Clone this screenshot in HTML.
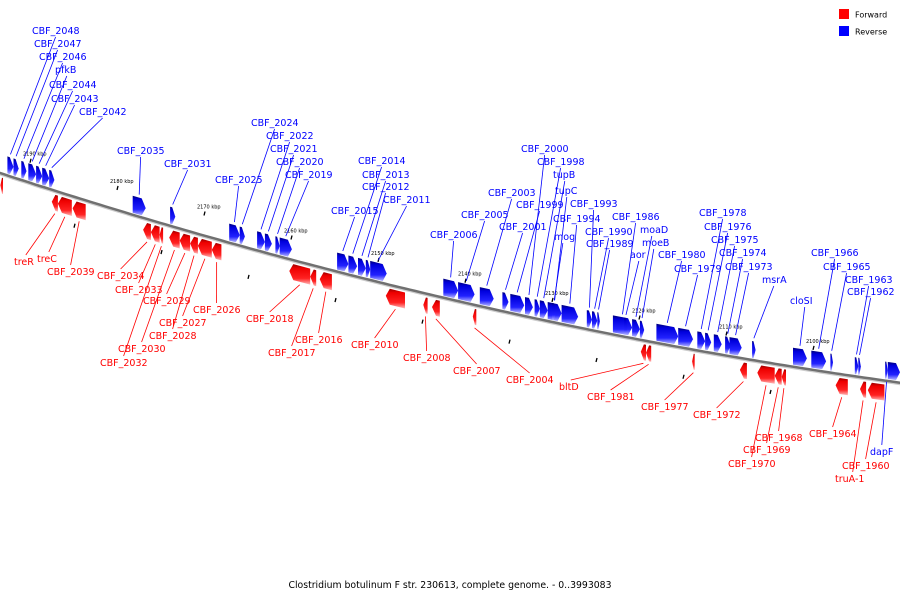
<!DOCTYPE html>
<html><head><meta charset="utf-8"><style>
html,body{margin:0;padding:0;background:#fff;}
svg{display:block;font-family:"DejaVu Sans","Liberation Sans",sans-serif;}
</style></head><body>
<svg id="chart" width="900" height="600" viewBox="0 0 900 600" xmlns="http://www.w3.org/2000/svg">
<defs>
<linearGradient id="gRed" x1="0" y1="0" x2="0" y2="1"><stop offset="0" stop-color="#900"/><stop offset="0.2" stop-color="#e00"/><stop offset="0.7" stop-color="#f22"/><stop offset="1" stop-color="#fbb"/></linearGradient>
<linearGradient id="gBlue" x1="0" y1="0" x2="0" y2="1"><stop offset="0" stop-color="#007"/><stop offset="0.2" stop-color="#00d"/><stop offset="0.7" stop-color="#22f"/><stop offset="1" stop-color="#bbf"/></linearGradient>
</defs>
<g id="axis"></g>
<g id="genes"></g>
<g id="labels"></g>
<g>
<rect x="839" y="9" width="10" height="10" fill="#f00"/>
<text x="855" y="17.5" font-size="8" fill="#000">Forward</text>
<rect x="839" y="26" width="10" height="10" fill="#00f"/>
<text x="855" y="34.5" font-size="8" fill="#000">Reverse</text>
</g>
<text x="450" y="588" font-size="9.3" text-anchor="middle" fill="#000">Clostridium botulinum F str. 230613, complete genome. - 0..3993083</text>
</svg>
<script>
const tickKbp = [2190,2180,2170,2160,2150,2140,2130,2120,2110,2100];
const tickLabels = ["2190 kbp","2180 kbp","2170 kbp","2160 kbp","2150 kbp","2140 kbp","2130 kbp","2120 kbp","2110 kbp","2100 kbp"];
const fwdNames = ["","treR","treC","CBF_2039","CBF_2034","CBF_2033","CBF_2032","CBF_2030","CBF_2029","CBF_2028","CBF_2027","CBF_2026","CBF_2018","CBF_2017","CBF_2016","CBF_2010","CBF_2008","CBF_2007","CBF_2004","bltD","CBF_1981","CBF_1977","CBF_1972","CBF_1970","CBF_1969","CBF_1968","CBF_1964","truA-1","CBF_1960"];
const fwdStart = [2193.4,2187.5,2186.8,2185.1,2177.0,2176.1,2175.1,2174.0,2172.8,2171.6,2170.7,2169.1,2160.2,2157.8,2156.7,2149.1,2144.8,2143.8,2139.1,2119.8,2119.2,2113.9,2108.4,2106.4,2104.4,2103.6,2097.4,2094.6,2093.7];
const fwdEnd = [2193.1,2186.8,2185.2,2183.6,2176.1,2175.1,2174.7,2172.8,2171.6,2170.7,2169.1,2168.0,2157.8,2157.1,2155.3,2146.9,2144.3,2142.9,2138.7,2119.2,2118.6,2113.6,2107.6,2104.4,2103.6,2103.1,2096.0,2093.9,2091.8];
const revNames = ["CBF_2048","CBF_2047","CBF_2046","pfkB","CBF_2044","CBF_2043","CBF_2042","CBF_2035","CBF_2031","CBF_2025","CBF_2024","CBF_2022","CBF_2021","CBF_2020","CBF_2019","CBF_2015","CBF_2014","CBF_2013","CBF_2012","CBF_2011","CBF_2006","CBF_2005","CBF_2003","CBF_2001","CBF_1999","CBF_2000","CBF_1998","tupB","tupC","CBF_1994","mog","CBF_1993","CBF_1990","CBF_1989","CBF_1986","moaD","moeB","aor","CBF_1980","CBF_1979","CBF_1978","CBF_1976","CBF_1975","CBF_1974","CBF_1973","msrA","cloSI","CBF_1966","CBF_1965","CBF_1963","CBF_1962","","dapF"];
const revStart = [2192.6,2191.9,2191.0,2190.2,2189.3,2188.6,2187.8,2178.2,2173.9,2167.1,2165.9,2163.9,2163.0,2161.8,2161.3,2154.7,2153.4,2152.3,2151.4,2150.9,2142.5,2140.8,2138.3,2135.7,2134.8,2133.1,2132.0,2131.4,2130.5,2128.9,2130.0,2126.0,2125.4,2124.8,2123.0,2120.8,2119.9,2121.7,2118.0,2115.5,2113.3,2112.4,2111.4,2110.1,2109.6,2107.0,2102.3,2100.2,2098.0,2095.2,2094.8,2091.4,2091.7];
const revEnd = [2191.9,2191.3,2190.4,2189.3,2188.6,2187.8,2187.2,2176.7,2173.3,2165.9,2165.3,2163.0,2162.2,2161.3,2159.9,2153.4,2152.4,2151.4,2150.9,2149.0,2140.8,2138.9,2136.7,2135.0,2133.2,2132.2,2131.4,2130.5,2128.9,2127.0,2129.5,2125.4,2124.8,2124.5,2120.8,2119.9,2119.4,2121.3,2115.5,2113.8,2112.4,2111.7,2110.5,2109.5,2108.2,2106.6,2100.7,2098.5,2097.7,2094.8,2094.5,2090.0,2091.4];
// label layout (pixel positions of label text)
const fwdLX=[null,14,37,47,97,115,100,118,143,149,159,193,246,268,295,351,403,453,506,559,587,641,693,728,743,755,809,835,842];
const fwdLY=[null,265,262,275,279,293,366,352,304,339,326,313,322,356,343,348,361,374,383,390,400,410,418,467,453,441,437,482,469];
const revLX=[32,34,39,55,49,51,79,117,164,215,251,266,270,276,285,331,358,362,362,383,430,461,488,499,516,521,537,553,555,553,554,570,585,586,612,640,642,630,658,674,699,704,711,719,725,762,790,811,823,845,847,null,870];
const revLY=[34,47,60,73,88,102,115,154,167,183,126,139,152,165,178,214,164,178,190,203,238,218,196,230,208,152,165,178,194,222,240,207,235,247,220,233,246,258,258,272,216,230,243,256,270,283,304,256,270,283,295,null,455];

const NS="http://www.w3.org/2000/svg";
function xOf(kbp){return (2193.45-kbp)*8.7;}
function yLine(x){return 173+0.328*x-1.056e-4*x*x;}
function mk(tag,attrs,parent){const e=document.createElementNS(NS,tag);for(const k in attrs)e.setAttribute(k,attrs[k]);parent.appendChild(e);return e;}
const axis=document.getElementById('axis'),genes=document.getElementById('genes'),labels=document.getElementById('labels');
let pts=[];for(let x=-5;x<=905;x+=5)pts.push(x+','+yLine(x).toFixed(1));
const sh=mk('polyline',{points:pts.map(p=>{const a=p.split(',');return a[0]+','+(+a[1]+1.5);}).join(' '),fill:'none',stroke:'#ccc','stroke-width':2},axis);


const ln=mk('polyline',{points:pts.join(' '),fill:'none',stroke:'#707070','stroke-width':2.5},axis);


tickKbp.forEach((k,i)=>{const x=xOf(k),y=yLine(x);
 const t=mk('text',{x:x-7,y:y-27,'font-size':5,fill:'#000'},axis);t.textContent=tickLabels[i];
 
 
 const m=mk('line',{x1:x+1,y1:y-24,x2:x,y2:y-20,stroke:'#000','stroke-width':1.3},axis);
 
 
 const m2=mk('line',{x1:x-43+1,y1:yLine(x-43)+27,x2:x-43,y2:yLine(x-43)+31,stroke:'#000','stroke-width':1.3},axis);
 
 
});
function drawGene(s,e,fwd,name){
 const x1=xOf(s),x2=xOf(e);const o1=fwd?4:-19,o2=fwd?20:-2;const head=Math.min(4,(x2-x1)*0.6);
 const P=(x,o)=>x.toFixed(1)+','+(yLine(x)+o).toFixed(1);const om=(o1+o2)/2;
 let poly;
 if(fwd) poly=[P(x1,om),P(x1+head,o1),P(x2,o1),P(x2,o2),P(x1+head,o2)];
 else poly=[P(x1,o1),P(x2-head,o1),P(x2,om),P(x2-head,o2),P(x1,o2)];
 const g=mk('polygon',{points:poly.join(' '),fill:fwd?'url(#gRed)':'url(#gBlue)'},genes);
 
 
 return {cx:(x1+x2)/2,top:yLine((x1+x2)/2)+o1,bot:yLine((x1+x2)/2)+o2};
}
function drawLabel(name,lx,ly,g,fwd){
 if(lx==null||!name)return;
 const col=fwd?'#f00':'#00f';const w=name.length*5.9;
 const t=mk('text',{x:lx,y:ly,'font-size':9.5,fill:col},labels);t.textContent=name;
 
 
 let ax=lx+w/2,ay,gx=g.cx,gy;
 if(fwd){ay=ly-10;gy=g.bot+3;}else if(ly<g.top){ay=ly+3;gy=g.top-3;}else{ay=ly-10;gy=g.bot+3;}
 const l=mk('line',{x1:ax,y1:ay,x2:gx,y2:gy,stroke:col,'stroke-width':0.8},labels);
 
 
}
fwdNames.forEach((n,i)=>{const g=drawGene(fwdStart[i],fwdEnd[i],true,n);drawLabel(n,fwdLX[i],fwdLY[i],g,true);});
revNames.forEach((n,i)=>{const g=drawGene(revStart[i],revEnd[i],false,n);drawLabel(n,revLX[i],revLY[i],g,false);});
</script>
</body></html>
